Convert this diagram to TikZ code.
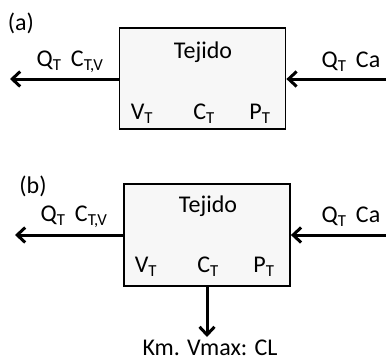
\documentclass[tikz,border=0pt]{standalone}
\usepackage{fontspec}
\setmainfont{Carlito}
\usetikzlibrary{arrows.meta}
\begin{document}
\begin{tikzpicture}[x=1pt,y=-1pt,
  lbl/.style={inner sep=0pt,font=\fontsize{24}{27}\selectfont},
  tissue/.style={draw=black,line width=1.8pt,fill=gray!6,inner sep=0pt},
  flow/.style={line width=3pt,-{Straight Barb[length=8pt,width=15pt,line width=3pt]}}]
\useasboundingbox (0,0) rectangle (386,362);
% (a)
\node[lbl] (la) at (21,23) {(a)};
\node[tissue,minimum width=166pt,minimum height=101pt] (boxa) at (202.5,78.5) {};
\node[lbl] (teja) at (203,52) {Tejido};
\node[lbl] (va) at (142,114) {V\textsubscript{T}};
\node[lbl] (ca) at (204,114) {C\textsubscript{T}};
\node[lbl] (pa) at (260,114) {P\textsubscript{T}};
\node[lbl] (outa) at (70,62) {Q\textsubscript{T}\, C\textsubscript{T,V}};
\node[lbl] (ina) at (351,62) {Q\textsubscript{T}\, Ca};
\coordinate (enda) at (10,79);
\coordinate (starta) at (386,79);
\draw[flow] (boxa.west |- enda) -- (enda);
\draw[flow] (starta) -- (boxa.east |- starta);
% (b)
\node[lbl] (lb) at (33,186) {(b)};
\node[tissue,minimum width=166pt,minimum height=102pt] (boxb) at (207,235) {};
\node[lbl] (tejb) at (208,206) {Tejido};
\node[lbl] (vb) at (146,267) {V\textsubscript{T}};
\node[lbl] (cb) at (208,267) {C\textsubscript{T}};
\node[lbl] (pb) at (264,267) {P\textsubscript{T}};
\node[lbl] (outb) at (74,217) {Q\textsubscript{T}\, C\textsubscript{T,V}};
\node[lbl] (inb) at (351,217) {Q\textsubscript{T}\, Ca};
\node[lbl] (km) at (210,348) {Km. Vmax: CL};
\coordinate (endb) at (15,235);
\coordinate (startb) at (386,235);
\coordinate (downb) at (207,337);
\draw[flow] (boxb.west |- endb) -- (endb);
\draw[flow] (startb) -- (boxb.east |- startb);
\draw[flow] (boxb.south -| downb) -- (downb);
\end{tikzpicture}
\end{document}
